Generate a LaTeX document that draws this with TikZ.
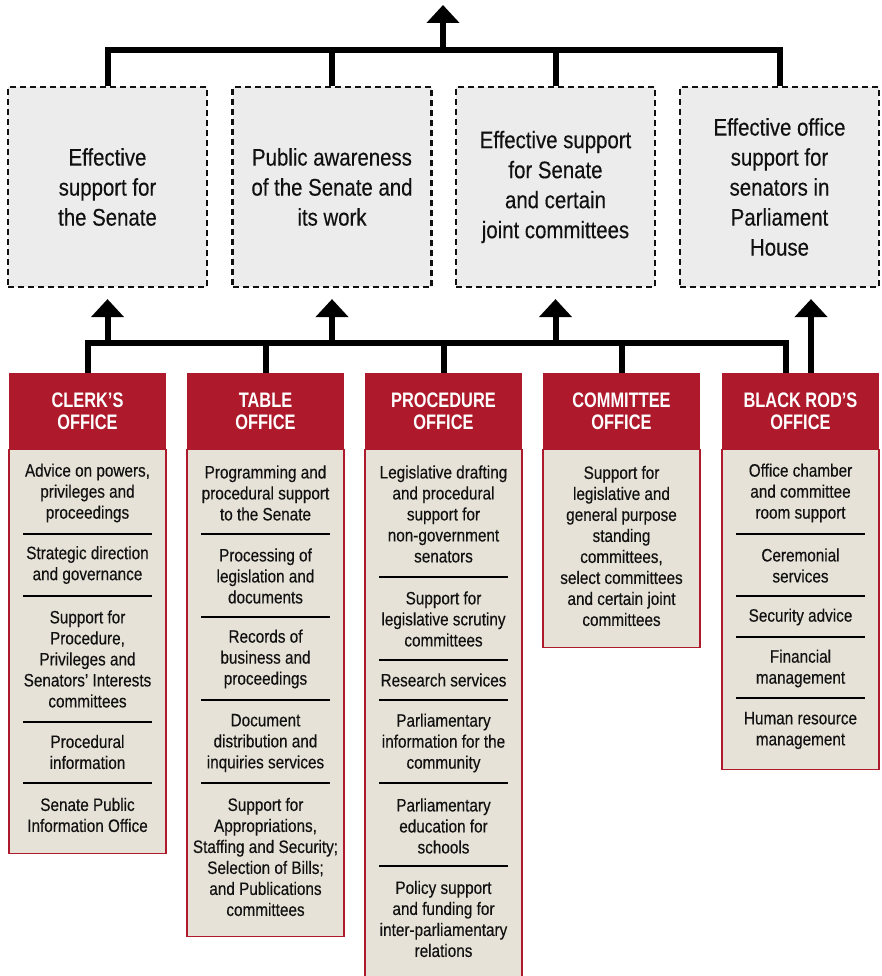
\documentclass[tikz,border=0pt]{standalone}
\usepackage{fontspec}
\setmainfont[FakeStretch=0.85, FakeBold=0.3]{Liberation Sans}
\newfontfamily\headfont[FakeStretch=0.78]{Liberation Sans}
\usetikzlibrary{arrows.meta}
\definecolor{senred}{HTML}{AE1A2C}
\definecolor{bodybg}{HTML}{E6E2D7}
\definecolor{goalbg}{HTML}{ECECEC}
\definecolor{inkgray}{HTML}{111111}

\begin{document}
\begin{tikzpicture}[x=1pt, y=-1pt]

\tikzset{goalbox/.style={draw=inkgray, dash pattern=on 6pt off 4pt, line width=2.2pt, fill=goalbg, minimum width=199pt, minimum height=200pt, align=center, text=inkgray, font=\fontsize{24}{30}\selectfont}}
\tikzset{headbox/.style={fill=senred, minimum width=157pt, minimum height=77pt, inner sep=0pt, align=center, text=white, font=\headfont\bfseries\fontsize{21}{22}\selectfont}}
\tikzset{bodybox/.style={draw=senred, line width=1.2pt, fill=bodybg, minimum width=157pt, inner sep=0pt, anchor=north}}
\tikzset{item/.style={align=center, inner sep=0pt, text=inkgray, font=\fontsize{18}{21}\selectfont}}
\tikzset{sepline/.style={line width=1.2pt, black}}
\tikzset{busline/.style={line width=6pt, black}}
\tikzset{uparrow/.style={busline, -{Triangle[width=32pt, length=18pt]}}}

\useasboundingbox (0,0) rectangle (881,976);

% outcome boxes
\node[goalbox] at (107.5, 187) (g1) {Effective\\support for\\the Senate};
\node[goalbox] at (332, 187) (g2) {Public awareness\\of the Senate and\\its work};
\node[goalbox] at (555.5, 187) (g3) {Effective support\\for Senate\\and certain\\joint committees};
\node[goalbox] at (779.5, 187) (g4) {Effective office\\support for\\senators in\\Parliament\\House};

% top bus and arrow
\coordinate (topbus) at (443, 50);
\coordinate (toptip) at (443, 5);
\draw[busline] (g1.north) |- (topbus) -| (g4.north);
\draw[busline] (g2.north) -- (g2.north |- topbus);
\draw[busline] (g3.north) -- (g3.north |- topbus);
\draw[uparrow] (topbus) -- (toptip);

% office bodies
\node[bodybox, minimum height=404pt] at (87.5, 449) (clerkbody) {};
\node[bodybox, minimum height=487pt] at (265.5, 449) (tablebody) {};
\node[bodybox, minimum height=531pt] at (443.5, 449) (procbody) {};
\node[bodybox, minimum height=198pt] at (621.5, 449) (combody) {};
\node[bodybox, minimum height=320pt] at (800.5, 449) (rodbody) {};

% office headers
\node[headbox] at (87.5, 411.5) (clerkhead) {CLERK’S\\OFFICE};
\node[headbox] at (265.5, 411.5) (tablehead) {TABLE\\OFFICE};
\node[headbox] at (443.5, 411.5) (prochead) {PROCEDURE\\OFFICE};
\node[headbox] at (621.5, 411.5) (comhead) {COMMITTEE\\OFFICE};
\node[headbox] at (800.5, 411.5) (rodhead) {BLACK ROD’S\\OFFICE};

% lower bus and arrows
\coordinate (lowbus) at (443.5, 343);
\coordinate (rodstub) at ([xshift=-14.5pt]rodhead.north);
\coordinate (rodup) at ([xshift=10.5pt]rodhead.north);
\draw[busline] (clerkhead.north) |- (lowbus) -| (rodstub);
\draw[busline] (tablehead.north) -- (tablehead.north |- lowbus);
\draw[busline] (prochead.north) -- (prochead.north |- lowbus);
\draw[busline] (comhead.north) -- (comhead.north |- lowbus);
\draw[uparrow, shorten >=11pt] (g1.south |- lowbus) -- (g1.south);
\draw[uparrow, shorten >=11pt] (g2.south |- lowbus) -- (g2.south);
\draw[uparrow, shorten >=11pt] (g3.south |- lowbus) -- (g3.south);
\draw[uparrow, shorten >=11pt] (rodup) -- (rodup |- g4.south);

% clerk's office
\node[item] at (87.5, 493) (c1) {Advice on powers,\\privileges and\\proceedings};
\node[item] at (87.5, 565) (c2) {Strategic direction\\and governance};
\node[item] at (87.5, 659) (c3) {Support for\\Procedure,\\Privileges and\\Senators’ Interests\\committees};
\node[item] at (87.5, 752) (c4) {Procedural\\information};
\node[item] at (87.5, 815) (c5) {Senate Public\\Information Office};
\draw[sepline] (23, 534) -- (152, 534);
\draw[sepline] (23, 596) -- (152, 596);
\draw[sepline] (23, 722) -- (152, 722);
\draw[sepline] (23, 783) -- (152, 783);

% table office
\node[item] at (265.5, 493) (t1) {Programming and\\procedural support\\to the Senate};
\node[item] at (265.5, 576) (t2) {Processing of\\legislation and\\documents};
\node[item] at (265.5, 659) (t3) {Records of\\business and\\proceedings};
\node[item] at (265.5, 743) (t4) {Document\\distribution and\\inquiries services};
\node[item] at (265.5, 857) (t5) {Support for\\Appropriations,\\Staffing and Security;\\Selection of Bills;\\and Publications\\committees};
\draw[sepline] (201, 534) -- (330, 534);
\draw[sepline] (201, 617) -- (330, 617);
\draw[sepline] (201, 700) -- (330, 700);
\draw[sepline] (201, 783) -- (330, 783);

% procedure office
\node[item] at (443.5, 514) (p1) {Legislative drafting\\and procedural\\support for\\non-government\\senators};
\node[item] at (443.5, 619) (p2) {Support for\\legislative scrutiny\\committees};
\node[item] at (443.5, 680) (p3) {Research services};
\node[item] at (443.5, 743) (p4) {Parliamentary\\information for the\\community};
\node[item] at (443.5, 826) (p5) {Parliamentary\\education for\\schools};
\node[item] at (443.5, 919) (p6) {Policy support\\and funding for\\inter-parliamentary\\relations};
\draw[sepline] (379, 577) -- (508, 577);
\draw[sepline] (379, 660) -- (508, 660);
\draw[sepline] (379, 700) -- (508, 700);
\draw[sepline] (379, 783) -- (508, 783);
\draw[sepline] (379, 866) -- (508, 866);

% committee office
\node[item] at (621.5, 546) (m1) {Support for\\legislative and\\general purpose\\standing\\committees,\\select committees\\and certain joint\\committees};

% black rod's office
\node[item] at (800.5, 493) (r1) {Office chamber\\and committee\\room support};
\node[item] at (800.5, 565.5) (r2) {Ceremonial\\services};
\node[item] at (800.5, 617) (r3) {Security advice};
\node[item] at (800.5, 668.5) (r4) {Financial\\management};
\node[item] at (800.5, 730.5) (r5) {Human resource\\management};
\draw[sepline] (736, 534) -- (865, 534);
\draw[sepline] (736, 596) -- (865, 596);
\draw[sepline] (736, 637) -- (865, 637);
\draw[sepline] (736, 698) -- (865, 698);

\end{tikzpicture}
\end{document}
